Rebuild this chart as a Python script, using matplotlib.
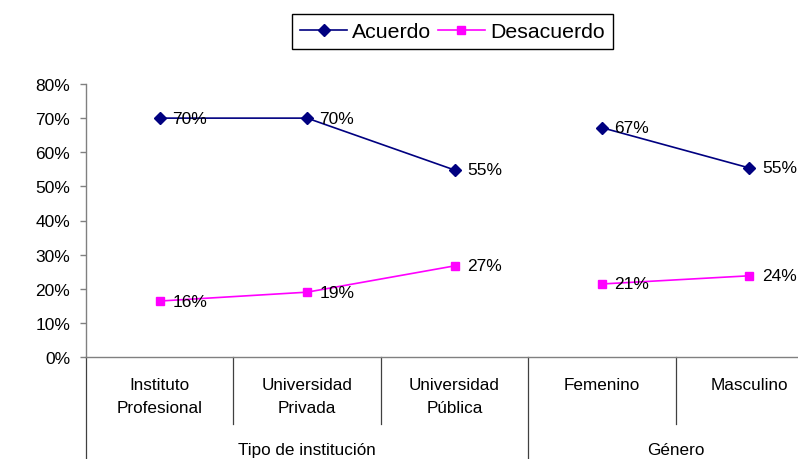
import matplotlib
matplotlib.use("Agg")
import matplotlib.pyplot as plt
import matplotlib.transforms as mtransforms
import numpy as np

plt.rcParams['font.family'] = ['Liberation Sans', 'DejaVu Sans']

# ---- data ----
categories = ["Instituto\nProfesional", "Universidad\nPrivada", "Universidad\nPública",
              "Femenino", "Masculino"]
groups = ["Tipo de institución", "Género"]
group_sizes = [3, 2]
acuerdo = [0.70, 0.70, 0.548, 0.672, 0.554]
desacuerdo = [0.164, 0.19, 0.267, 0.214, 0.238]
yticks = [0.0, 0.1, 0.2, 0.3, 0.4, 0.5, 0.6, 0.7, 0.8]
series_names = ["Acuerdo", "Desacuerdo"]

W, H = 798, 460
fig = plt.figure(figsize=(W / 100, H / 100), dpi=100)
fig.patch.set_facecolor('white')
ax = fig.add_axes([86 / W, (H - 358) / H, (823 - 86) / W, (358 - 85) / H])
ax.set_xlim(-0.5, len(categories) - 0.5)
ax.set_ylim(0, 0.8)

navy = '#000080'
magenta = '#FF00FF'

x = np.arange(len(categories))
handles = []
start = 0
for gi, gs in enumerate(group_sizes):
    sl = slice(start, start + gs)
    h1, = ax.plot(x[sl], acuerdo[sl], color=navy, lw=1.2, marker='D', ms=6,
                  mfc=navy, mec=navy, clip_on=False, zorder=3)
    h2, = ax.plot(x[sl], desacuerdo[sl], color=magenta, lw=1.2, marker='s', ms=6,
                  mfc=magenta, mec=magenta, clip_on=False, zorder=3)
    if gi == 0:
        handles = [h1, h2]
    start += gs

# data labels
for xi, v in zip(x, acuerdo):
    ax.annotate(f"{v*100:.0f}%", (xi, v), xytext=(9, 0), textcoords='offset points',
                ha='left', va='center', fontsize=12.5, color='black', zorder=4)
for xi, v in zip(x, desacuerdo):
    ax.annotate(f"{v*100:.0f}%", (xi, v), xytext=(9, 0), textcoords='offset points',
                ha='left', va='center', fontsize=12.5, color='black', zorder=4)

# axes styling
for s in ['top', 'right']:
    ax.spines[s].set_visible(False)
for s in ['left', 'bottom']:
    ax.spines[s].set_color('#808080')
    ax.spines[s].set_linewidth(1.0)
ax.set_yticks(yticks)
ax.set_yticklabels([f"{t*100:.0f}%" for t in yticks])
ax.tick_params(axis='y', direction='out', length=4.5, color='#808080', width=1,
               pad=7, labelsize=12.5)
ax.set_xticks([])

# category dividers and labels
trans = mtransforms.blended_transform_factory(ax.transData, ax.transAxes)
px = 1.0 / (358 - 85)  # one pixel in axes units (vertical)
inner_bottom = -(425 - 358) * px
outer_bottom = -(462 - 358) * px
group_edges = np.concatenate([[0], np.cumsum(group_sizes)]) - 0.5
for b in np.arange(len(categories) + 1) - 0.5:
    yb = outer_bottom if np.any(np.isclose(group_edges, b)) else inner_bottom
    ax.plot([b, b], [0, yb], transform=trans, color='#404040', lw=0.9, clip_on=False)

for xi, lab in zip(x, categories):
    ax.text(xi, -(378 - 358) * px, lab, transform=trans, ha='center', va='top',
            fontsize=12.3, linespacing=1.7)

for gi, g in enumerate(groups):
    c = (group_edges[gi] + group_edges[gi + 1]) / 2
    ax.text(c, -(451 - 358) * px, g, transform=trans, ha='center', va='center',
            fontsize=12.3)

leg = fig.legend(handles, series_names, loc='center',
                 bbox_to_anchor=(452.5 / W, 1 - 32.5 / H), ncol=2, fontsize=15.3,
                 frameon=True, fancybox=False, edgecolor='black', framealpha=1,
                 borderpad=0.38, handlelength=2.2, handletextpad=0.25,
                 columnspacing=0.3, borderaxespad=0)
leg.get_frame().set_linewidth(1.0)

fig.savefig("out.png", dpi=100)
